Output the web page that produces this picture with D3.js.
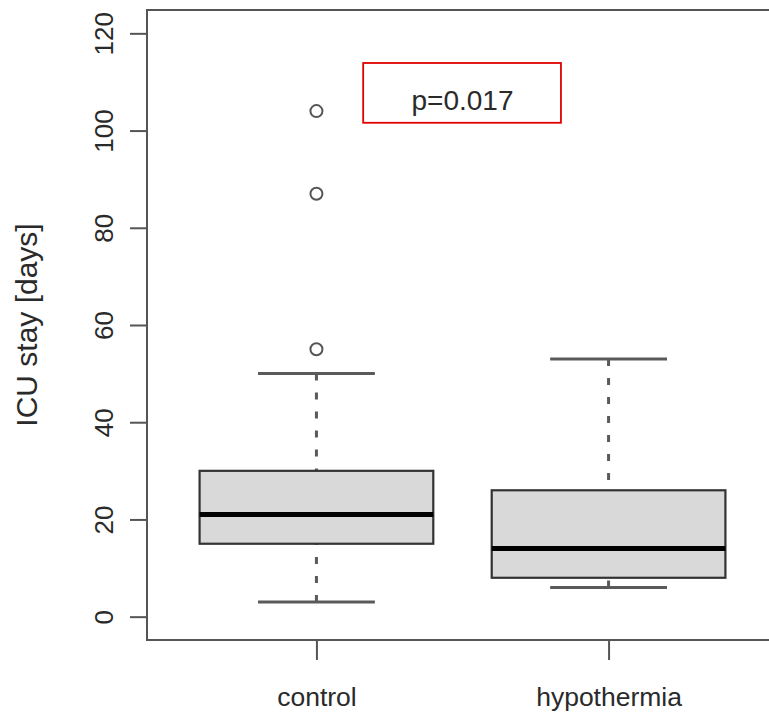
<!DOCTYPE html>
<html lang="en">

<head>
  <meta charset="utf-8">
  <title>ICU stay boxplot</title>
  <script src="https://d3js.org/d3.v7.min.js"></script>
</head>

<body style="margin:0;background:#fff">
  <div id="chart"></div>

  <style>
    #chart text {
      font-family: "Liberation Sans", Arial, sans-serif;
      fill: #2a2a2a;
    }
  </style>

  <script type="text/javascript">
    "use strict"

    // box statistics
    var grupos = ["control", "hypothermia"];
    var bigodeMin = [3, 6];
    var q1 = [15, 8];
    var mediana = [21, 14];
    var q3 = [30, 26];
    var bigodeMax = [50, 53];
    var outliers = [[55, 87, 104], []];
    var yTicks = [0, 20, 40, 60, 80, 100, 120];
    var rotuloY = "ICU stay [days]";
    var rotuloP = "p=0.017";

    function desenhaGrafico() {
      var larguraSVG = 769, alturaSVG = 713;

      var svg = d3.select('#chart')
        .append('svg')
          .attr('width', larguraSVG)
          .attr('height', alturaSVG);

      // R style: xlim 0.5..2.5 widened by 4%, ylim 0..120 widened by 4%
      var x = d3.scaleLinear()
                .domain([0.42, 2.58])
                .range([147, 778]);

      var y = d3.scaleLinear()
                .domain([-4.8, 124.8])
                .range([640, 10]);

      var passo = x(2) - x(1);
      var meiaCaixa = passo * 0.4;
      var meioBigode = meiaCaixa / 2;

      var dados = grupos.map(function(g, i) {
        return {grupo: g, pos: i + 1, min: bigodeMin[i], q1: q1[i], med: mediana[i],
                q3: q3[i], max: bigodeMax[i], out: outliers[i]};
      });

      var caixas = svg.selectAll('g.caixa')
        .data(dados)
        .enter()
        .append('g')
          .attr('class', 'caixa');

      // dashed whiskers, drawn from the cap towards the box
      caixas.append('line')
        .attr('x1', d => x(d.pos)).attr('x2', d => x(d.pos))
        .attr('y1', d => y(d.max)).attr('y2', d => y(d.q3))
        .attr('stroke', '#5a5a5a').attr('stroke-width', 3)
        .attr('stroke-dasharray', '7,12');
      caixas.append('line')
        .attr('x1', d => x(d.pos)).attr('x2', d => x(d.pos))
        .attr('y1', d => y(d.min)).attr('y2', d => y(d.q1))
        .attr('stroke', '#5a5a5a').attr('stroke-width', 3)
        .attr('stroke-dasharray', '7,12');

      // whisker caps
      ['min', 'max'].forEach(function(k) {
        caixas.append('line')
          .attr('x1', d => x(d.pos) - meioBigode).attr('x2', d => x(d.pos) + meioBigode)
          .attr('y1', d => y(d[k])).attr('y2', d => y(d[k]))
          .attr('stroke', '#5a5a5a').attr('stroke-width', 3);
      });

      caixas.append('rect')
        .attr('x', d => x(d.pos) - meiaCaixa)
        .attr('width', meiaCaixa * 2)
        .attr('y', d => y(d.q3))
        .attr('height', d => y(d.q1) - y(d.q3))
        .attr('fill', '#d9d9d9')
        .attr('stroke', '#333').attr('stroke-width', 2.2);

      caixas.append('line')
        .attr('x1', d => x(d.pos) - meiaCaixa).attr('x2', d => x(d.pos) + meiaCaixa)
        .attr('y1', d => y(d.med)).attr('y2', d => y(d.med))
        .attr('stroke', '#000').attr('stroke-width', 5);

      caixas.selectAll('circle')
        .data(d => d.out.map(v => ({pos: d.pos, v: v})))
        .enter()
        .append('circle')
          .attr('cx', d => x(d.pos))
          .attr('cy', d => y(d.v))
          .attr('r', 6)
          .attr('fill', 'none')
          .attr('stroke', '#555').attr('stroke-width', 2);

      // frame
      svg.append('rect')
        .attr('x', x(0.42)).attr('y', y(124.8))
        .attr('width', x(2.58) - x(0.42)).attr('height', y(-4.8) - y(124.8))
        .attr('fill', 'none')
        .attr('stroke', '#555').attr('stroke-width', 2);

      // y axis
      var eixoY = svg.append('g')
        .attr('transform', 'translate(' + x(0.42) + ',0)')
        .call(d3.axisLeft(y).tickValues(yTicks).tickSize(17));
      eixoY.select('.domain').remove();
      eixoY.selectAll('.tick line').attr('stroke', '#555').attr('stroke-width', 2);
      eixoY.selectAll('.tick text')
        .attr('transform', 'rotate(-90)')
        .attr('x', 0).attr('y', -34).attr('dy', 0)
        .attr('text-anchor', 'middle')
        .style('font-size', '26px');

      // x axis
      var eixoX = svg.append('g')
        .attr('transform', 'translate(0,' + y(-4.8) + ')')
        .call(d3.axisBottom(x).tickValues([1, 2]).tickFormat((d, i) => grupos[i]).tickSize(20));
      eixoX.select('.domain').remove();
      eixoX.selectAll('.tick line').attr('stroke', '#555').attr('stroke-width', 2);
      eixoX.selectAll('.tick text')
        .attr('y', 66).attr('dy', 0)
        .style('font-size', '26.5px');

      svg.append('text')
        .attr('transform', 'translate(37,' + y(60) + ') rotate(-90)')
        .attr('text-anchor', 'middle')
        .style('font-size', '30px')
        .text(rotuloY);

      // p-value annotation
      svg.append('rect')
        .attr('x', x(1.16)).attr('y', y(113.9))
        .attr('width', x(1.837) - x(1.16)).attr('height', y(101.6) - y(113.9))
        .attr('fill', 'none')
        .attr('stroke', '#e00000').attr('stroke-width', 1.8);
      svg.append('text')
        .attr('x', x(1.5)).attr('y', y(104.3))
        .attr('text-anchor', 'middle')
        .style('font-size', '28px')
        .text(rotuloP);
    }

    desenhaGrafico();
  </script>
</body>

</html>
